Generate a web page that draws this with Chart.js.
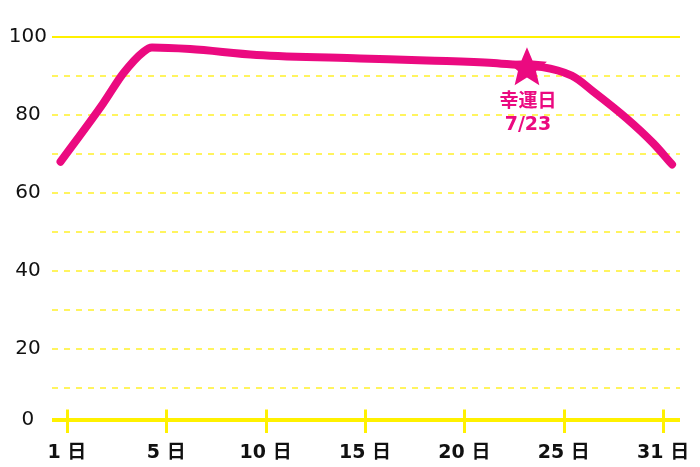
<!DOCTYPE html>
<html>
<head>
<meta charset="utf-8">
<script src="https://cdn.jsdelivr.net/npm/chart.js@4/dist/chart.umd.min.js"></script>
<style>
  html, body { margin: 0; padding: 0; background: #ffffff; }
  canvas { display: block; }
</style>
</head>
<body>
<canvas id="c" width="700" height="467"></canvas>
<script>
// ---- data ----
const lineX = [-0.32, 1.83, 2.84, 3.85, 4.28, 6.2, 9.55, 14.75, 18.1, 21.46, 25.4, 26.49, 28.17, 29.51, 30.45];
const lineY = [68.0, 83.0, 90.7, 96.2, 97.3, 96.9, 95.4, 94.5, 94.0, 93.3, 90.1, 86.0, 79.1, 72.7, 67.3];

const starX = [23.15];
const starY = [92.0];
const starLabelLines = ['幸運日', '7/23'];

const xTickValues = [0, 5, 10, 15, 20, 25, 30];
const xTickLabels = ['1 日', '5 日', '10 日', '15 日', '20 日', '25 日', '31 日'];

const yTickValues = [0, 10, 20, 30, 40, 50, 60, 70, 80, 90, 100];
const yTickLabels = ['0', '', '20', '', '40', '', '60', '', '80', '', '100'];
// in the reference the yellow base line (labelled 0) sits slightly above true zero
const axisLineValue = 1.7;

// ---- styles ----
const MAGENTA = '#EB0A80';
const YELLOW = '#FFF100';
const YELLOW_DASH = '#FFF45E';

function drawStar(ctx, cx, cy, R, innerRatio, color) {
  ctx.beginPath();
  for (let i = 0; i < 10; i++) {
    const a = -Math.PI / 2 + i * Math.PI / 5;
    const r = i % 2 === 0 ? R : R * innerRatio;
    const px = cx + r * Math.cos(a), py = cy + r * Math.sin(a);
    if (i === 0) ctx.moveTo(px, py); else ctx.lineTo(px, py);
  }
  ctx.closePath();
  ctx.fillStyle = color;
  ctx.fill();
}

const tickMarks = {
  id: 'tickMarks',
  beforeDatasetsDraw(chart) {
    const { ctx, scales: { x, y } } = chart;
    const base = y.getPixelForValue(axisLineValue);
    ctx.save();
    ctx.strokeStyle = YELLOW;
    ctx.lineWidth = 3;
    xTickValues.forEach(v => {
      const px = Math.round(x.getPixelForValue(v)) + 0.5;
      ctx.beginPath();
      ctx.moveTo(px, base - 10.5);
      ctx.lineTo(px, base + 13);
      ctx.stroke();
    });
    ctx.restore();
  }
};

const starMark = {
  id: 'starMark',
  afterDatasetsDraw(chart) {
    const { ctx, scales: { x, y } } = chart;
    ctx.save();
    starX.forEach((sx, i) => {
      const px = x.getPixelForValue(sx);
      const py = y.getPixelForValue(starY[i]);
      drawStar(ctx, px, py, 21, 0.45, MAGENTA);
      ctx.fillStyle = MAGENTA;
      ctx.font = 'bold 19px "DejaVu Sans", "Noto Sans CJK JP", sans-serif';
      ctx.textAlign = 'center';
      ctx.textBaseline = 'middle';
      ctx.fillText(starLabelLines[0], px + 1, py + 33.5);
      ctx.fillText(starLabelLines[1], px + 1, py + 56.5);
    });
    ctx.restore();
  }
};

new Chart(document.getElementById('c'), {
  type: 'line',
  data: {
    datasets: [
      {
        label: 'fortune',
        data: lineX.map((v, i) => ({ x: v, y: lineY[i] })),
        borderColor: MAGENTA,
        borderWidth: 8,
        borderCapStyle: 'round',
        borderJoinStyle: 'round',
        cubicInterpolationMode: 'monotone',
        pointRadius: 0,
        fill: false,
        clip: false
      }
    ]
  },
  options: {
    responsive: false,
    animation: false,
    devicePixelRatio: 1,
    events: [],
    layout: { padding: { top: 37, right: 20, left: 0, bottom: 0 } },
    plugins: { legend: { display: false }, tooltip: { enabled: false } },
    scales: {
      x: {
        type: 'linear',
        min: -0.75,
        max: 30.85,
        afterBuildTicks(scale) { scale.ticks = xTickValues.map(v => ({ value: v })); },
        afterFit(scale) { scale.height = 47; scale.paddingLeft = 0; scale.paddingRight = 0; },
        grid: { display: false },
        border: { display: false },
        ticks: {
          autoSkip: false,
          maxRotation: 0,
          padding: 14,
          color: '#111111',
          font: { family: '"DejaVu Sans", "Noto Sans CJK JP", sans-serif', size: 19, weight: 'bold' },
          callback: (v, i) => xTickLabels[i]
        }
      },
      y: {
        min: axisLineValue,
        max: 100,
        afterBuildTicks(scale) { scale.ticks = yTickValues.map(v => ({ value: Math.max(v, axisLineValue) })); },
        afterFit(scale) { scale.width = 52; scale.paddingTop = 0; scale.paddingBottom = 0; },
        border: {
          display: false,
          dash: ctx => (ctx.index === undefined || ctx.index === 0 || ctx.index === yTickValues.length - 1) ? [] : [6, 6]
        },
        grid: {
          drawTicks: false,
          lineWidth: ctx => ctx.index === 0 ? 4 : 2,
          color: ctx => (ctx.index === 0 || ctx.index === yTickValues.length - 1) ? YELLOW : YELLOW_DASH
        },
        ticks: {
          crossAlign: 'center',
          padding: 5,
          color: '#111111',
          font: { family: '"DejaVu Sans", sans-serif', size: 20 },
          callback: (v, i) => yTickLabels[i]
        }
      }
    }
  },
  plugins: [tickMarks, starMark]
});
</script>
</body>
</html>
